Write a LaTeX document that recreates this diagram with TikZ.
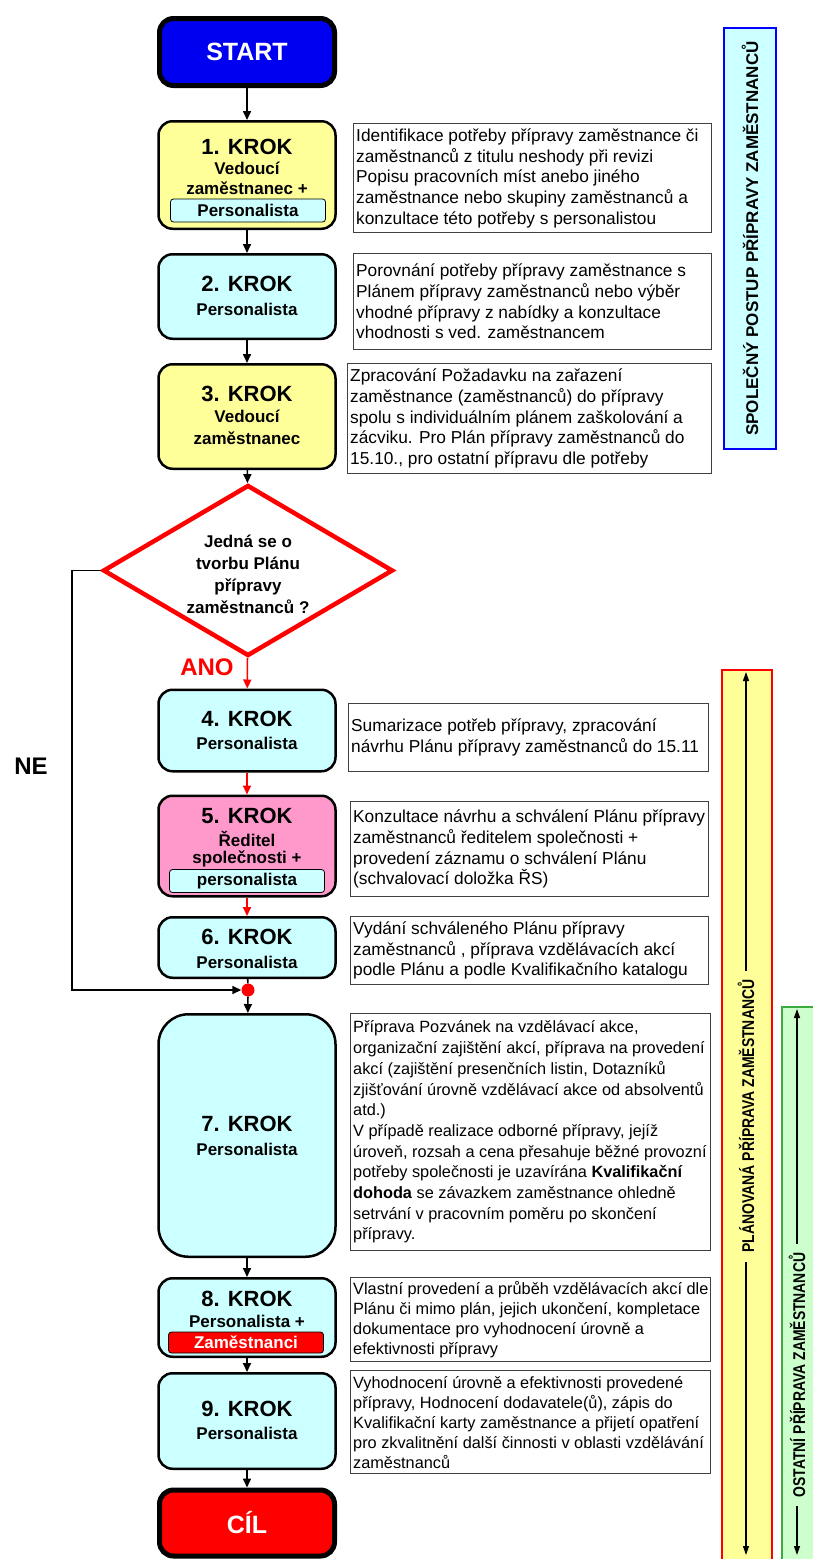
\documentclass[tikz,border=0pt]{standalone}
\usepackage{fontspec}
\setmainfont{Liberation Sans}
\usepackage{graphicx}
\usetikzlibrary{shapes.geometric,arrows.meta}
\definecolor{startblue}{RGB}{0,0,240}
\definecolor{yel}{RGB}{255,255,153}
\definecolor{cyn}{RGB}{204,255,255}
\definecolor{pnk}{RGB}{255,153,204}
\definecolor{myred}{RGB}{255,0,0}
\definecolor{grn}{RGB}{204,255,204}
\definecolor{grnline}{RGB}{60,170,60}
\definecolor{bandblue}{RGB}{0,0,255}
\begin{document}
\begin{tikzpicture}[x=1pt,y=-1pt,
 stepbox/.style={draw=black, line width=2.5pt, rounded corners=14pt, minimum width=177pt, inner sep=0pt},
 termbox/.style={draw=black, line width=5pt, rounded corners=14pt, minimum width=175pt, inner sep=0pt, text=white, font=\fontsize{25}{28}\selectfont\bfseries},
 krok/.style={font=\fontsize{22}{24}\selectfont\bfseries, inner sep=0pt},
 sub/.style={font=\fontsize{17}{20}\selectfont\bfseries, inner sep=0pt},
 inbox/.style={draw=black, line width=0.8pt, rounded corners=3pt, minimum width=155pt, minimum height=23pt, inner sep=0pt, font=\fontsize{17}{20}\selectfont\bfseries},
 tbox/.style={draw=black!75, line width=1.3pt, anchor=north west, inner sep=0pt},
 ttext/.style={font=\fontsize{17.3}{20.7}\selectfont, align=left, inner sep=0pt, anchor=west},
 stext/.style={font=\fontsize{16.3}{20.7}\selectfont, align=left, inner sep=0pt, anchor=west},
 arr/.style={line width=1.6pt, -{Triangle[length=9pt,width=8pt]}},
 plainline/.style={line width=1.6pt},
 barr/.style={line width=1.2pt, -{Triangle[length=9pt,width=6pt]}},
 bandbox/.style={line width=2pt, anchor=north west, inner sep=0pt},
 bandtext/.style={rotate=90, font=\fontsize{17}{20}\selectfont\bfseries, inner sep=0pt}
]
\useasboundingbox (0,0) rectangle (812,1559);
\fill[white] (0,0) rectangle (812,1559);

% ---------- side bands ----------
\node[bandbox, draw=bandblue, fill=cyn, minimum width=52pt, minimum height=421pt] (bandA) at (723,27) {};
\node[bandtext] (bandAt) at (bandA.center) {SPOLEČNÝ POSTUP PŘÍPRAVY ZAMĚSTNANCŮ};

\node[bandbox, draw=myred, fill=yel, minimum width=50pt, minimum height=920pt] (bandB) at (721,669) {};
\node[bandtext] (bandBt) at (746,1116) {\scalebox{0.82}[1]{PLÁNOVANÁ PŘÍPRAVA ZAMĚSTNANCŮ}};
\coordinate (b1) at (746,672);
\coordinate (b2) at (746,971);
\coordinate (b3) at (746,1262);
\coordinate (b4) at (746,1555);
\draw[barr] (b2) -- (b1);
\draw[barr] (b3) -- (b4);

\node[bandbox, draw=grnline, fill=grn, minimum width=50pt, minimum height=600pt] (bandC) at (781,1006) {};
\node[bandtext] (bandCt) at (797,1375) {\scalebox{0.82}[1]{OSTATNÍ PŘÍPRAVA ZAMĚSTNANCŮ}};
\coordinate (c1) at (797,1009);
\coordinate (c2) at (797,1244);
\coordinate (c3) at (797,1506);
\coordinate (c4) at (797,1555);
\draw[barr] (c2) -- (c1);
\draw[barr] (c3) -- (c4);

% ---------- left column ----------
\node[termbox, fill=startblue, minimum height=67pt] (start) at (247,52) {START};

\node[stepbox, fill=yel, minimum height=107.5pt] (s1) at (247,175) {};
\node[krok] (s1a) at (247,147) {1. KROK};
\node[sub] (s1b) at (247,168) {Vedoucí};
\node[sub] (s1c) at (247,188) {zaměstnanec +};
\node[inbox, fill=cyn] (s1d) at (248,210.5) {Personalista};

\node[stepbox, fill=cyn, minimum height=84.5pt] (s2) at (247,296.5) {};
\node[krok] (s2a) at (247,284) {2. KROK};
\node[sub] (s2b) at (247,309) {Personalista};

\node[stepbox, fill=yel, minimum height=104.5pt] (s3) at (247,416.5) {};
\node[krok] (s3a) at (247,394) {3. KROK};
\node[sub] (s3b) at (247,416) {Vedoucí};
\node[sub] (s3c) at (247,438) {zaměstnanec};

\node[diamond, draw=myred, fill=white, line width=4.5pt, minimum width=290pt, minimum height=171pt, inner sep=0pt] (dia) at (248,570.5) {};
\node[font=\fontsize{17}{22}\selectfont\bfseries, align=center, inner sep=0pt] (diat) at (248,574) {Jedná se o\\tvorbu Plánu\\přípravy\\zaměstnanců ?};
\node[font=\fontsize{24}{26}\selectfont\bfseries, text=myred, inner sep=0pt] (ano) at (207,667) {ANO};
\node[font=\fontsize{24}{26}\selectfont\bfseries, inner sep=0pt] (ne) at (31,766) {NE};

\node[stepbox, fill=cyn, minimum height=81.5pt] (s4) at (247,730.5) {};
\node[krok] (s4a) at (247,719) {4. KROK};
\node[sub] (s4b) at (247,743) {Personalista};

\node[stepbox, fill=pnk, minimum height=100.5pt] (s5) at (247,846) {};
\node[krok] (s5a) at (247,816) {5. KROK};
\node[sub] (s5b) at (247,839) {Ředitel};
\node[sub] (s5c) at (247,859) {společnosti +};
\node[inbox, fill=cyn] (s5d) at (247,881) {personalista};

\node[stepbox, fill=cyn, minimum height=60.5pt] (s6) at (247,947.5) {};
\node[krok] (s6a) at (247,937) {6. KROK};
\node[sub] (s6b) at (247,962) {Personalista};

\node[circle, fill=myred, inner sep=0pt, minimum size=13pt] (dot) at (248,990) {};

\node[stepbox, fill=cyn, rounded corners=30pt, minimum height=242.5pt] (s7) at (247,1135.5) {};
\node[krok] (s7a) at (247,1124) {7. KROK};
\node[sub] (s7b) at (247,1149) {Personalista};

\node[stepbox, fill=cyn, minimum height=78.5pt] (s8) at (247,1317.5) {};
\node[krok] (s8a) at (247,1299) {8. KROK};
\node[sub] (s8b) at (247,1321) {Personalista +};
\node[inbox, fill=myred, text=white, minimum height=21pt] (s8c) at (246,1342.5) {Zaměstnanci};

\node[stepbox, fill=cyn, minimum height=95.5pt] (s9) at (247,1421) {};
\node[krok] (s9a) at (247,1409) {9. KROK};
\node[sub] (s9b) at (247,1433) {Personalista};

\node[termbox, fill=myred, minimum height=66pt] (cil) at (247,1523) {CÍL};

% ---------- connectors ----------
\draw[arr] (start) -- (s1);
\draw[arr] (s1) -- (s2);
\draw[arr] (s2) -- (s3);
\draw[arr] (s3) -- (dia);
\draw[arr, myred] (dia) -- (s4);
\draw[arr, myred] (s4) -- (s5);
\draw[arr, myred] (s5) -- (s6);
\draw[plainline] (s6) -- (dot);
\coordinate (nec) at (72,570.5);
\draw[arr] (dia.west) -- (nec) |- (dot);
\draw[arr] (dot) -- (s7);
\draw[arr] (s7) -- (s8);
\draw[arr] (s8) -- (s9);
\draw[arr] (s9) -- (cil);

% ---------- text boxes ----------
\node[tbox, minimum width=358pt, minimum height=109pt] (t1) at (353,123) {};
\node[ttext] (t1x) at ([xshift=3pt]t1.west) {Identifikace potřeby přípravy zaměstnance či\\zaměstnanců z titulu neshody při revizi\\Popisu pracovních míst anebo jiného\\zaměstnance nebo skupiny zaměstnanců a\\konzultace této potřeby s personalistou};

\node[tbox, minimum width=358pt, minimum height=96pt] (t2) at (353,253) {};
\node[ttext] (t2x) at ([xshift=3pt]t2.west) {Porovnání potřeby přípravy zaměstnance s\\Plánem přípravy zaměstnanců nebo výběr\\vhodné přípravy z nabídky a konzultace\\vhodnosti s ved. zaměstnancem};

\node[tbox, minimum width=364pt, minimum height=110pt] (t3) at (347,363) {};
\node[ttext] (t3x) at ([xshift=3pt]t3.west) {Zpracování Požadavku na zařazení\\zaměstnance (zaměstnanců) do přípravy\\spolu s individuálním plánem zaškolování a\\zácviku. Pro Plán přípravy zaměstnanců do\\15.10., pro ostatní přípravu dle potřeby};

\node[tbox, minimum width=360pt, minimum height=68pt] (t4) at (348,703) {};
\node[ttext] (t4x) at ([xshift=3pt]t4.west) {Sumarizace potřeb přípravy, zpracování\\návrhu Plánu přípravy zaměstnanců do 15.11};

\node[tbox, minimum width=358pt, minimum height=95pt] (t5) at (350,801) {};
\node[ttext] (t5x) at ([xshift=3pt]t5.west) {Konzultace návrhu a schválení Plánu přípravy\\zaměstnanců ředitelem společnosti +\\provedení záznamu o schválení Plánu\\(schvalovací doložka ŘS)};

\node[tbox, minimum width=358pt, minimum height=68pt] (t6) at (350,916) {};
\node[ttext] (t6x) at ([xshift=3pt]t6.west) {Vydání schváleného Plánu přípravy\\zaměstnanců , příprava vzdělávacích akcí\\podle Plánu a podle Kvalifikačního katalogu};

\node[tbox, minimum width=360pt, minimum height=237pt] (t7) at (350,1013) {};
\node[stext] (t7x) at ([xshift=3pt]t7.west) {Příprava Pozvánek na vzdělávací akce,\\organizační zajištění akcí, příprava na provedení\\akcí (zajištění presenčních listin, Dotazníků\\zjišťování úrovně vzdělávací akce od absolventů\\atd.)\\V případě realizace odborné přípravy, jejíž\\úroveň, rozsah a cena přesahuje běžné provozní\\potřeby společnosti je uzavírána \textbf{Kvalifikační}\\\textbf{dohoda} se závazkem zaměstnance ohledně\\setrvání v pracovním poměru po skončení\\přípravy.};

\node[tbox, minimum width=360pt, minimum height=84pt] (t8) at (350,1277) {};
\node[stext, font=\fontsize{16.3}{20}\selectfont] (t8x) at ([xshift=3pt]t8.west) {Vlastní provedení a průběh vzdělávacích akcí dle\\Plánu či mimo plán, jejich ukončení, kompletace\\dokumentace pro vyhodnocení úrovně a\\efektivnosti přípravy};

\node[tbox, minimum width=360pt, minimum height=103pt] (t9) at (350,1370) {};
\node[stext, font=\fontsize{16.3}{20}\selectfont] (t9x) at ([xshift=3pt]t9.west) {Vyhodnocení úrovně a efektivnosti provedené\\přípravy, Hodnocení dodavatele(ů), zápis do\\Kvalifikační karty zaměstnance a přijetí opatření\\pro zkvalitnění další činnosti v oblasti vzdělávání\\zaměstnanců};
\end{tikzpicture}
\end{document}
